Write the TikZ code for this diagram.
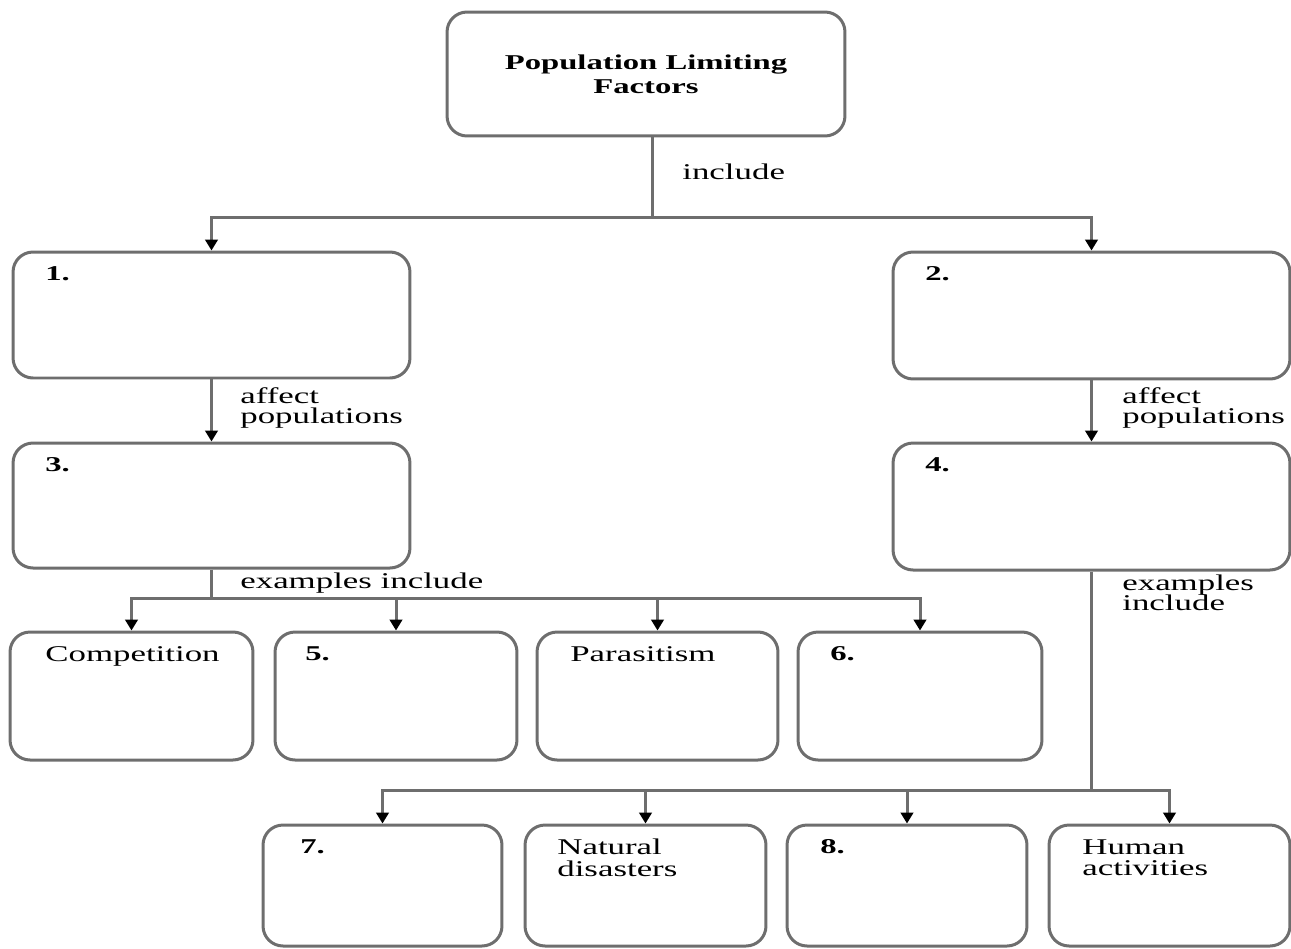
\documentclass[tikz,border=0pt]{standalone}
\usepackage{fontspec}
\setmainfont{Liberation Serif}[FakeStretch=1.55]
\usetikzlibrary{arrows.meta}
\definecolor{lin}{HTML}{6E6E6E}
\tikzset{
  box/.style={draw=lin, line width=0.06cm, rounded corners=0.4cm, minimum width=#1, inner sep=0pt},
  txt/.style={inner sep=0pt, anchor=north west, align=left, font=\fontsize{12.8}{12}\selectfont},
  num/.style={txt, font=\fontsize{12}{12}\selectfont\bfseries},
  lbl/.style={inner sep=0pt, anchor=west, align=left, font=\fontsize{12.8}{12}\selectfont},
  conn/.style={draw=lin, line width=0.06cm},
  arr/.style={conn, -{Triangle[width=0.25cm,length=0.22cm,color=black,fill=black]}}
}
\begin{document}
\begin{tikzpicture}[x=0.02cm,y=-0.02cm]
\useasboundingbox (0,0) rectangle (1291,948);
% boxes
\node[box=7.96cm, minimum height=2.48cm] (top) at (646,74) {};
\node[font=\fontsize{12}{12}\selectfont\bfseries, align=center, inner sep=0pt] (toptxt) at (646,74) {Population Limiting\\[0.06cm]Factors};
\node[box=7.94cm, minimum height=2.52cm] (b1) at (211.5,315) {};
\node[box=7.94cm, minimum height=2.54cm] (b2) at (1091.5,315.5) {};
\node[box=7.94cm, minimum height=2.50cm] (b3) at (211.5,505.5) {};
\node[box=7.94cm, minimum height=2.54cm] (b4) at (1091.5,506.5) {};
\node[box=4.86cm, minimum height=2.56cm] (comp) at (131.5,696) {};
\node[box=4.84cm, minimum height=2.56cm] (c5) at (396,696) {};
\node[box=4.82cm, minimum height=2.56cm] (para) at (657.5,696) {};
\node[box=4.88cm, minimum height=2.56cm] (c6) at (920,696) {};
\node[box=4.78cm, minimum height=2.42cm] (d7) at (382.5,885.5) {};
\node[box=4.82cm, minimum height=2.42cm] (nat) at (645.5,885.5) {};
\node[box=4.80cm, minimum height=2.42cm] (d8) at (907,885.5) {};
\node[box=4.82cm, minimum height=2.42cm] (hum) at (1169.5,885.5) {};
% box texts
\node[num] (t1) at (45,266) {1.};
\node[num] (t2) at (925,266) {2.};
\node[num] (t3) at (45,457) {3.};
\node[num] (t4) at (925,457) {4.};
\node[txt] (tcomp) at (45,646) {Competition};
\node[num] (t5) at (305,646) {5.};
\node[txt] (tpara) at (570,646) {Parasitism};
\node[num] (t6) at (830,646) {6.};
\node[num] (t7) at (300,839) {7.};
\node[txt] (tnat) at (557,839) {Natural\\[0.0cm]disasters};
\node[num] (t8) at (820,839) {8.};
\node[txt] (thum) at (1082,839) {Human\\[0.0cm]activities};
% connectors
\coordinate (j1) at (652,217);
\draw[conn] (top.south -| j1) -- (j1);
\draw[arr] (j1) -| (b1.north);
\draw[arr] (j1) -| (b2.north);
\draw[arr] (b1.south) -- (b3.north);
\draw[arr] (b2.south) -- (b4.north);
\coordinate (j3) at (211.5,598);
\draw[conn] (b3.south) -- (j3);
\draw[arr] (j3) -| (comp.north);
\draw[arr] (j3) -| (c5.north);
\draw[arr] (j3) -| (para.north);
\draw[arr] (j3) -| (c6.north);
\coordinate (j4) at (1091.5,790);
\draw[conn] (b4.south) -- (j4);
\draw[arr] (j4) -| (d7.north);
\draw[arr] (j4) -| (nat.north);
\draw[arr] (j4) -| (d8.north);
\draw[arr] (j4) -| (hum.north);
% labels
\node[lbl] (linc) at (682,172) {include};
\node[lbl] (laff1) at (240,408) {affect\\[-0.02cm]populations};
\node[lbl] (laff2) at (1122,408) {affect\\[-0.02cm]populations};
\node[lbl] (lex1) at (240,583) {examples include};
\node[lbl] (lex2) at (1122,593) {examples\\[-0.02cm]include};
\end{tikzpicture}
\end{document}
